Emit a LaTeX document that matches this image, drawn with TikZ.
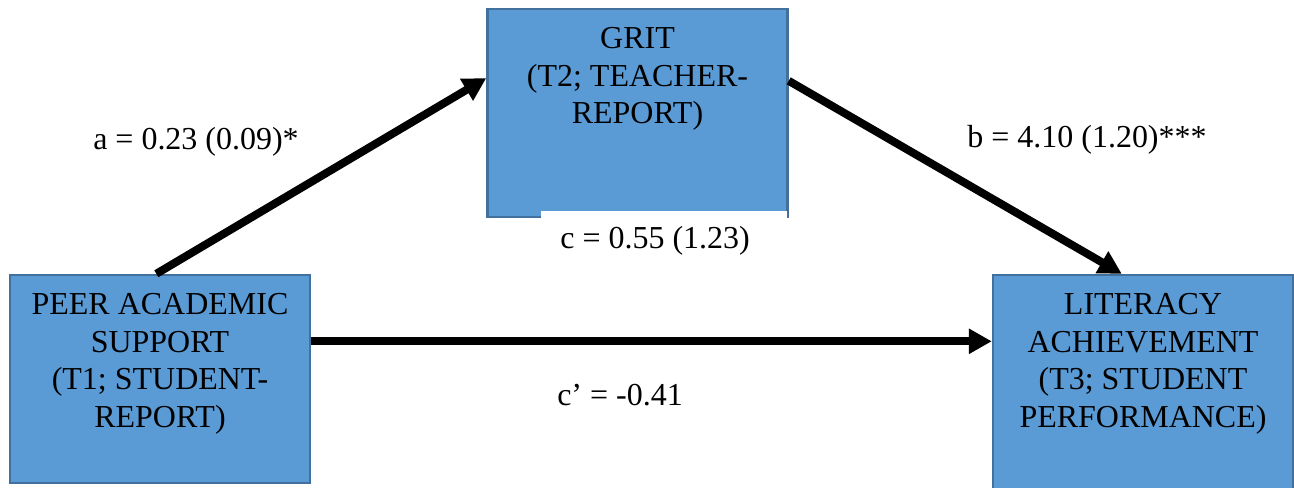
\documentclass[tikz,border=0pt]{standalone}
\usepackage{fontspec}
\setmainfont{Liberation Serif}
\usetikzlibrary{arrows.meta}
\definecolor{boxblue}{HTML}{5B9BD5}
\definecolor{boxedge}{HTML}{41719C}
\newcommand{\boxlines}[2]{\parbox[c][#1][t]{5.8cm}{\centering #2}}

\begin{document}
\begin{tikzpicture}[x=0.02cm,y=-0.02cm,
        varbox/.style={draw=boxedge,fill=boxblue,line width=0.05cm,inner xsep=0.1cm,inner ysep=0.375cm,
            font=\fontsize{18.2pt}{21.3pt}\selectfont},
        coef/.style={font=\fontsize{18.2pt}{21.3pt}\selectfont},
        effect/.style={line width=0.16cm,-{Triangle[length=0.46cm,width=0.48cm]}}]
    \useasboundingbox (0,0) rectangle (1294,487);
    % variables
    \node[varbox] (peer) at (160,379) {\boxlines{3.41cm}{PEER ACADEMIC\\SUPPORT\\(T1; STUDENT-\\REPORT)}};
    \node[varbox] (grit) at (637.5,113) {\boxlines{3.41cm}{GRIT\\(T2; TEACHER-\\REPORT)}};
    \node[varbox] (lit) at (1143,383) {\boxlines{3.57cm}{LITERACY\\ACHIEVEMENT\\(T3; STUDENT\\PERFORMANCE)}};
    % paths
    \draw[effect] (peer.92.7) -- (grit.167.5);
    \draw[effect] (grit.12.5) -- (lit.101.5);
    \draw[effect] (peer.14.9) -- (peer.14.9 -| lit.west);
    % coefficients
    \node[coef,anchor=base] (ea) at (196,149) {a = 0.23 (0.09)*};
    \node[coef,anchor=base] (eb) at (1087,147) {b = 4.10 (1.20)***};
    \node[coef,anchor=base] (ecc) at (620,405) {c’ = -0.41};
    \node[coef,fill=white,anchor=north west,text width=4.16cm,inner xsep=0.38cm,inner ysep=0.3cm,align=flush left] (ec) at (541,211) {c = 0.55 (1.23)};
\end{tikzpicture}
\end{document}
